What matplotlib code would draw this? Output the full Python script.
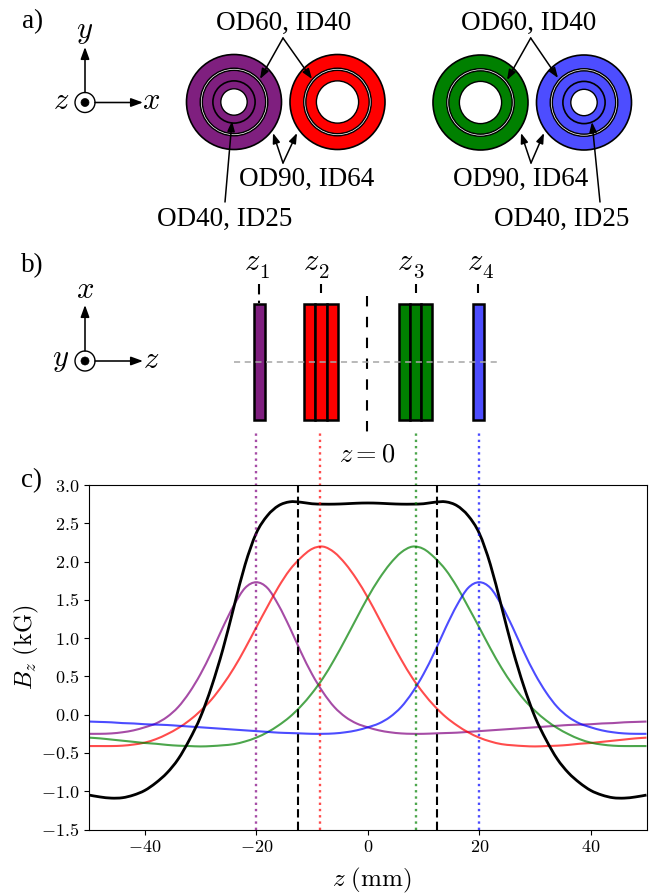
import numpy as np
import matplotlib
matplotlib.use("Agg")
import matplotlib.pyplot as plt
from matplotlib.patches import Circle, Rectangle, PathPatch
from matplotlib.path import Path

plt.rcParams['font.family'] = ['Liberation Serif', 'DejaVu Serif']
plt.rcParams['mathtext.fontset'] = 'cm'

# ---------- data ----------
z_mm = np.arange(-50, 51, 2)
b_purple = [-.25, -.25, -.245, -.23, -.205, -.165, -.115, -.03, .10, .29, .53, .82, 1.14, 1.43, 1.655, 1.73,
            1.655, 1.43, 1.14, .82, .53, .29, .10, -.03, -.115, -.165, -.205, -.23, -.245, -.25, -.25,
            -.245, -.24, -.235, -.225, -.215, -.205, -.195, -.185, -.175, -.165, -.155, -.145, -.135, -.13,
            -.125, -.115, -.11, -.10, -.095, -.09]
b_red = [-.41, -.41, -.41, -.405, -.39, -.365, -.32, -.255, -.175, -.075, .05, .20, .39, .61, .865, 1.14,
         1.41, 1.67, 1.89, 2.05, 2.165, 2.195, 2.12, 1.97, 1.77, 1.53, 1.26, .985, .72, .48, .28, .11,
         -.03, -.14, -.23, -.30, -.35, -.385, -.40, -.41, -.415, -.41, -.405, -.395, -.38, -.37,
         -.355, -.34, -.325, -.31, -.30]
b_green = [-.30, -.31, -.325, -.34, -.355, -.37, -.38, -.395, -.405, -.41, -.415, -.41, -.40, -.385, -.35,
           -.30, -.23, -.14, -.03, .11, .28, .48, .72, .985, 1.26, 1.53, 1.77, 1.97, 2.12, 2.195, 2.165,
           2.05, 1.89, 1.67, 1.41, 1.14, .865, .61, .39, .20, .05, -.075, -.175, -.255, -.32, -.365,
           -.39, -.405, -.41, -.41, -.41]
b_blue = [-.09, -.095, -.10, -.11, -.115, -.125, -.13, -.135, -.145, -.155, -.165, -.175, -.185, -.195, -.205,
          -.215, -.225, -.235, -.24, -.245, -.25, -.25, -.245, -.23, -.205, -.165, -.115, -.03, .10, .29,
          .53, .82, 1.14, 1.43, 1.655, 1.73, 1.655, 1.43, 1.14, .82, .53, .29, .10, -.03, -.115, -.165,
          -.205, -.23, -.245, -.25, -.25]
b_total = [-1.05, -1.075, -1.09, -1.085, -1.05, -.99, -.89, -.76, -.58, -.33, -.03, .37, .85, 1.41, 1.96,
           2.37, 2.60, 2.73, 2.78, 2.775, 2.755, 2.75, 2.75, 2.755, 2.762, 2.765, 2.762, 2.755, 2.75, 2.75,
           2.755, 2.775, 2.78, 2.73, 2.60, 2.37, 1.96, 1.41, .85, .37, -.03, -.33, -.58, -.76, -.89, -.99,
           -1.05, -1.085, -1.09, -1.075, -1.05]
coil_z = [-20, -8.6, 8.6, 20]
region_z = [-12.5, 12.5]
x_ticks = [-40, -20, 0, 20, 40]
x_tick_labels = ['$-40$', '$-20$', '$0$', '$20$', '$40$']
y_ticks = [-1.5, -1.0, -0.5, 0.0, 0.5, 1.0, 1.5, 2.0, 2.5, 3.0]
y_tick_labels = ['$-1.5$', '$-1.0$', '$-0.5$', '$0.0$', '$0.5$', '$1.0$', '$1.5$', '$2.0$', '$2.5$', '$3.0$']

PURPLE, RED, GREEN, BLUE = '#7f1f7f', '#ff0000', '#008000', '#4d4dff'
curve_colors = ['purple', 'red', 'green', 'blue']

fig = plt.figure(figsize=(6.51, 8.94), dpi=100)

# ---------- schematic overlay in pixel coordinates ----------
ov = fig.add_axes([0, 0, 1, 1])
ov.set_xlim(0, 651); ov.set_ylim(894, 0); ov.axis('off')

TXT = 19.5
SC = 47.5 / 45


def ring(cx, cy, col, inner):
    ov.add_patch(Circle((cx, cy), 45 * SC, fc=col, ec='k', lw=1.2))
    ov.add_patch(Circle((cx, cy), 32 * SC, fc='white', ec='k', lw=1.0))
    ov.add_patch(Circle((cx, cy), 30 * SC, fc=col, ec='k', lw=1.0))
    if inner:
        ov.add_patch(Circle((cx, cy), 20 * SC, fc=col, ec='k', lw=1.2))
        ov.add_patch(Circle((cx, cy), 12.5 * SC, fc='white', ec='k', lw=1.0))
    else:
        ov.add_patch(Circle((cx, cy), 20 * SC, fc='white', ec='k', lw=1.0))


ring(234, 102, PURPLE, True)
ring(337.5, 102, RED, False)
ring(480.5, 102.5, GREEN, False)
ring(584, 102.5, BLUE, True)


def arrow(start, end, ms=11, lw=1.15):
    ov.annotate('', xy=end, xytext=start,
                arrowprops=dict(arrowstyle='-|>,head_length=0.55,head_width=0.2', mutation_scale=ms,
                                lw=lw, color='k', shrinkA=0, shrinkB=0))


def triad(ox, oy, up, rt, lab_up, lab_rt, lab_c):
    ov.add_patch(Circle((ox, oy), 10, fc='white', ec='k', lw=1.0, zorder=3))
    ov.add_patch(Circle((ox, oy), 4, fc='k', ec='k', lw=0.5, zorder=4))
    arrow((ox, oy - 10), (ox, up), ms=13)
    arrow((ox + 10, oy), (rt, oy), ms=13)
    ov.text(ox, up - 15, lab_up, fontsize=22, ha='center', va='center')
    ov.text(rt + 8, oy - 1, lab_rt, fontsize=22, ha='center', va='center')
    ov.text(ox - 24, oy - 1, lab_c, fontsize=22, ha='center', va='center')


triad(85, 102.5, 47, 143, '$y$', '$x$', '$z$')
triad(85, 361, 305, 143, '$x$', '$z$', '$y$')

for s, x, y in [('a)', 22, 28), ('b)', 21, 272), ('c)', 21, 487)]:
    ov.text(x, y, s, fontsize=TXT, ha='left', va='baseline')

labels = [('OD60, ID40', 283.5, 30), ('OD90, ID64', 306.5, 186), ('OD40, ID25', 224.5, 226),
          ('OD60, ID40', 529, 30), ('OD90, ID64', 521, 186), ('OD40, ID25', 562, 226)]
for s, x, y in labels:
    ov.text(x, y, s, fontsize=TXT, ha='center', va='baseline')

leaders = [((283, 38), (260, 79)), ((283, 38), (312, 79)),
           ((283, 163), (273, 133)), ((283, 163), (297, 133)),
           ((225, 202), (232, 121)),
           ((530.7, 38), (507, 80)), ((530.7, 38), (558, 78)),
           ((531, 163), (521, 133)), ((531, 163), (544, 133)),
           ((600, 202), (592, 122))]
for a, b in leaders:
    arrow(a, b, ms=11, lw=1.1)

# panel b
ov.plot([234, 498], [361.7, 361.7], ls=(0, (4, 3)), color='0.65', lw=1.1, zorder=5)
groups = [(254, 265, 1, PURPLE), (304, 338, 3, RED), (398.7, 432.3, 3, GREEN), (473, 484, 1, BLUE)]
for x0, x1, n, col in groups:
    w = (x1 - x0) / n
    for i in range(n):
        ov.add_patch(Rectangle((x0 + i * w, 303.5), w, 116.5, fc=col, ec='k', lw=1.8, zorder=3))
ov.plot([367, 367], [296, 434], ls=(0, (5, 5)), color='k', lw=1.5, zorder=4)
for x, top, bot in [(259, 284, 303), (320.5, 284, 293), (415.5, 284, 293), (478, 284, 293)]:
    ov.plot([x, x], [top, bot], ls=(0, (5, 3)), color='k', lw=1.5)
for i, (x, sx) in enumerate([(252, 264), (311, 324), (405, 419), (475, 488)]):
    ov.text(x, 262, '$z$', fontsize=22, ha='center', va='center')
    ov.text(sx, 274, f'${i + 1}$', fontsize=15, ha='center', va='center')
ov.text(367, 455, '$z=0$', fontsize=19, ha='center', va='center')


# ---------- panel c ----------
def smooth_curve(ax, xs, ys, **kw):
    """Draw a smooth Bezier through the read values (no extra data)."""
    p = np.column_stack([xs, ys]).astype(float)
    prev = np.vstack([p[0], p[:-1]])
    nxt = np.vstack([p[1:], p[-1]])
    tang = (nxt - prev) / 6.0
    verts = [p[0]]
    codes = [Path.MOVETO]
    for i in range(len(p) - 1):
        verts += [p[i] + tang[i], p[i + 1] - tang[i + 1], p[i + 1]]
        codes += [Path.CURVE4] * 3
    ax.add_patch(PathPatch(Path(verts, codes), fill=False, capstyle='butt', **kw))


ax = fig.add_axes([89 / 651, (894 - 829.5) / 894, 557.5 / 651, 344.5 / 894], zorder=2)
ax.set_xlim(-50, 50); ax.set_ylim(-1.5, 3.0)
for b, c in zip([b_purple, b_red, b_green, b_blue], curve_colors):
    smooth_curve(ax, z_mm, b, edgecolor=c, alpha=0.7, lw=1.5)
smooth_curve(ax, z_mm, b_total, edgecolor='k', lw=2)
for zc, c in zip(coil_z, curve_colors):
    ax.plot([zc, zc], [-1.5, 3.7], color=c, alpha=0.7, lw=1.7, ls=':', clip_on=False)
for zr in region_z:
    ax.plot([zr, zr], [-1.5, 3.0], color='k', lw=1.5, ls=(0, (4, 2)))
ax.set_xticks(x_ticks); ax.set_xticklabels(x_tick_labels)
ax.set_yticks(y_ticks); ax.set_yticklabels(y_tick_labels)
ax.tick_params(labelsize=13, length=3.5, width=0.8)
ov.text(26, 647, '$B_z\\ (\\mathrm{kG})$', fontsize=17.5, rotation=90, ha='center', va='center')
ov.text(372, 886, '$z\\ (\\mathrm{mm})$', fontsize=18, ha='center', va='baseline')

fig.savefig('out.png', dpi=100)
